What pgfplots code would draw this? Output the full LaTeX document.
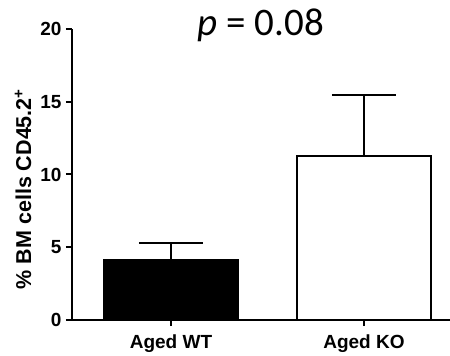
\documentclass[border=0pt]{standalone}
\usepackage{fontspec}
\setmainfont{Liberation Sans}
\newfontfamily\calfont{Carlito}
\usepackage{pgfplots}
\pgfplotsset{compat=1.18}
\begin{document}
\begin{tikzpicture}
\begin{axis}[
  scale only axis,
  width=378pt, height=291pt,
  xmin=-0.513, xmax=1.446,
  ymin=0, ymax=20,
  axis x line=bottom, axis y line=left,
  axis line style={-, line width=2pt},
  every tick/.style={black, line width=2pt},
  major tick length=6pt,
  tick align=outside,
  ytick={0,5,10,15,20},
  minor tick num=0,
  xtick={0,1},
  xticklabels={Aged WT, Aged KO},
  /pgf/number format/assume math mode=true,
  ticklabel style={font=\bfseries\fontsize{19}{21}\selectfont},
  yticklabel style={xshift=-1pt},
  xticklabel style={yshift=-5pt},
  ybar, bar width=0.69, bar shift=0pt,
  clip=false,
]
\addplot[draw=black, fill=black, line width=2pt,
  error bars/.cd, y dir=plus, y explicit,
  error bar style={line width=2pt, black},
  error mark options={rotate=90, mark size=32pt, line width=2pt, black}]
  coordinates {(0,4.12) +- (0,1.19)};
\addplot[draw=black, fill=white, line width=2pt,
  error bars/.cd, y dir=plus, y explicit,
  error bar style={line width=2pt, black},
  error mark options={rotate=90, mark size=32pt, line width=2pt, black}]
  coordinates {(1,11.27) +- (0,4.17)};
\coordinate (O) at (rel axis cs:0,0);
\node[rotate=90, anchor=center, font=\bfseries\fontsize{21.5}{23}\selectfont]
  at ([xshift=-49pt]rel axis cs:0,0.45) {\% BM cells CD45.2\textsuperscript{+}};
\node[anchor=base, font=\calfont\fontsize{39}{42}\selectfont]
  at ([yshift=-7pt]rel axis cs:0.5,1) {\textit{p} = 0.08};
\end{axis}
\pgfresetboundingbox
\path (O) ++(-72pt,-36pt) rectangle ++(450pt,356pt);
\end{tikzpicture}
\end{document}
